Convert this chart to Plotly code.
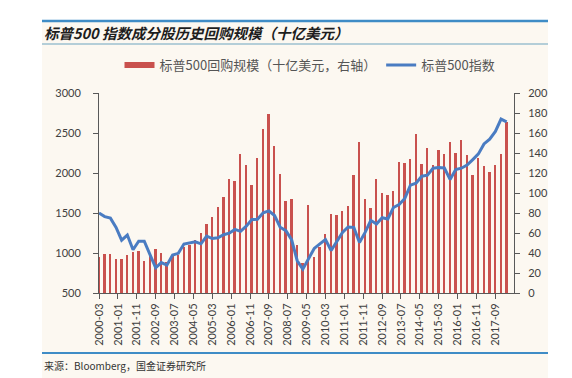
import plotly.graph_objects as go

# ---------------- data ----------------
quarters = [f"{y}-{m:02d}" for y in range(2000, 2019) for m in (3, 6, 9, 12)][:73]

buyback = [  # 十亿美元 (right axis)
    36, 39, 38.7, 33.7,
    33.7, 37.7, 41.3, 42.3,
    32.3, 38, 44.5, 40.3,
    31.3, 37.3, 38, 46,
    48, 53, 59.7, 69,
    76, 86.3, 96.3, 114.3,
    112.3, 138.7, 128, 107.7,
    134.7, 164, 179, 147.3,
    118.7, 92.3, 94, 48,
    30, 88.3, 35.7, 46,
    59.5, 79, 78, 82,
    87.5, 118, 151.5, 94,
    85.2, 114.5, 99.7, 98.5,
    102, 131, 130.5, 133.7,
    159.5, 129.5, 145.2, 128,
    142.7, 138.7, 150.7, 140.2,
    152.8, 137.8, 117.8, 135.3,
    127.5, 121.2, 128.5, 138.7,
    171.5,
]

spx = [  # 标普500指数 (left axis)
    1499, 1455, 1436, 1320,
    1160, 1224, 1041, 1148,
    1147, 990, 815, 880,
    848, 975, 996, 1112,
    1126, 1141, 1115, 1212,
    1181, 1191, 1229, 1248,
    1295, 1270, 1336, 1418,
    1421, 1503, 1527, 1468,
    1323, 1280, 1166, 903,
    798, 919, 1057, 1115,
    1169, 1031, 1141, 1258,
    1326, 1321, 1131, 1258,
    1408, 1362, 1441, 1426,
    1569, 1606, 1682, 1848,
    1872, 1960, 1972, 2059,
    2068, 2063, 1920, 2044,
    2060, 2099, 2168, 2239,
    2363, 2423, 2519, 2674,
    2640,
]

left_ticks = [500, 1000, 1500, 2000, 2500, 3000]
right_ticks = list(range(0, 201, 20))

title_text = "标普500 指数成分股历史回购规模（十亿美元）"
bar_name = "标普500回购规模（十亿美元，右轴）"
line_name = "标普500指数"
source_text = "来源：Bloomberg，国金证券研究所"

# ---------------- layout helpers (page pixel coordinates) ----------------
PAGE_W, PAGE_H = 572, 378
OFF = 8                      # default page body margin
FW, FH = PAGE_W - OFF, PAGE_H - OFF
L, R, T, B = 99, 514, 93, 293   # plot area on the page


def px(x):
    return (x - L) / (R - L)


def py(y):
    return (B - y) / (B - T)


RED = "#c9514e"
BLUE = "#4a7cc2"
AXC = "#595959"
TXT = "#404040"
CREAM = "#fcf8f1"
NUMFONT = "Lato"
CJK = "Noto Sans CJK SC"

fig = go.Figure()

fig.add_trace(go.Bar(
    x=quarters, y=buyback, name=bar_name, marker_color=RED,
    marker_line_width=0, width=30 * 86400000, yaxis="y", showlegend=False,
))
# legend entry for the bars (wide swatch like the original)
fig.add_trace(go.Scatter(
    x=[None], y=[None], mode="lines", name=bar_name,
    line=dict(color=RED, width=6), yaxis="y",
))
fig.add_trace(go.Scatter(
    x=quarters, y=spx, name=line_name, mode="lines",
    line=dict(color=BLUE, width=3), yaxis="y2",
))

shapes = [
    dict(type="rect", xref="paper", yref="paper", x0=px(42), x1=px(548),
         y0=py(378), y1=py(21), fillcolor=CREAM, line_width=0, layer="below"),
    dict(type="line", xref="paper", yref="paper", x0=px(42), x1=px(548),
         y0=py(21), y1=py(21), line=dict(color="#3f8cc6", width=2.5), layer="below"),
    dict(type="line", xref="paper", yref="paper", x0=px(42), x1=px(548),
         y0=py(44), y1=py(44), line=dict(color="#9dc0cf", width=1.5), layer="below"),
    dict(type="line", xref="paper", yref="paper", x0=px(42), x1=px(548),
         y0=py(353), y1=py(353), line=dict(color="#3f8cc6", width=2), layer="below"),
]

annotations = [
    dict(text=title_text, xref="paper", yref="paper", x=px(42), y=py(32),
         xanchor="left", yanchor="middle", showarrow=False,
         font=dict(family=CJK, size=14.5, color="#1e1e1e", style="italic", weight="bold")),
    dict(text=source_text, xref="paper", yref="paper", x=px(42), y=py(365),
         xanchor="left", yanchor="middle", showarrow=False,
         font=dict(family=CJK, size=10, color="#333333")),
]

fig.update_layout(
    width=FW, height=FH,
    margin=dict(l=L - OFF, r=FW - (R - OFF), t=T - OFF, b=FH - (B - OFF), pad=0),
    paper_bgcolor="white",
    plot_bgcolor="rgba(0,0,0,0)",
    bargap=0,
    shapes=shapes,
    annotations=annotations,
    legend=dict(orientation="h", x=px(310), xanchor="center", y=py(65), yanchor="middle",
                font=dict(family=CJK, size=13, color="#555555"),
                bgcolor="rgba(0,0,0,0)", itemwidth=30, tracegroupgap=0),
    xaxis=dict(
        type="date", range=["2000-03-01", "2018-06-28"],
        tick0="2000-03-01", dtick="M10", tickformat="%Y-%m", tickangle=-90,
        ticks="outside", ticklen=5, tickcolor=AXC, showline=True, linecolor=AXC,
        linewidth=1, showgrid=False, zeroline=False,
        tickfont=dict(family=NUMFONT, size=11, color=TXT),
    ),
    yaxis=dict(
        side="right", range=[0, 200], tickvals=right_ticks,
        ticks="outside", ticklen=5, tickcolor=AXC, showline=True, linecolor=AXC,
        linewidth=1, showgrid=False, zeroline=False, ticklabelstandoff=6,
        tickfont=dict(family=NUMFONT, size=11, color=TXT),
    ),
    yaxis2=dict(
        side="left", overlaying="y", range=[500, 3000], tickvals=left_ticks,
        ticks="outside", ticklen=5, tickcolor=AXC, showline=True, linecolor=AXC,
        linewidth=1, showgrid=False, zeroline=False, ticklabelstandoff=10,
        tickfont=dict(family=NUMFONT, size=11, color=TXT),
    ),
)

fig.write_html("out.html")
